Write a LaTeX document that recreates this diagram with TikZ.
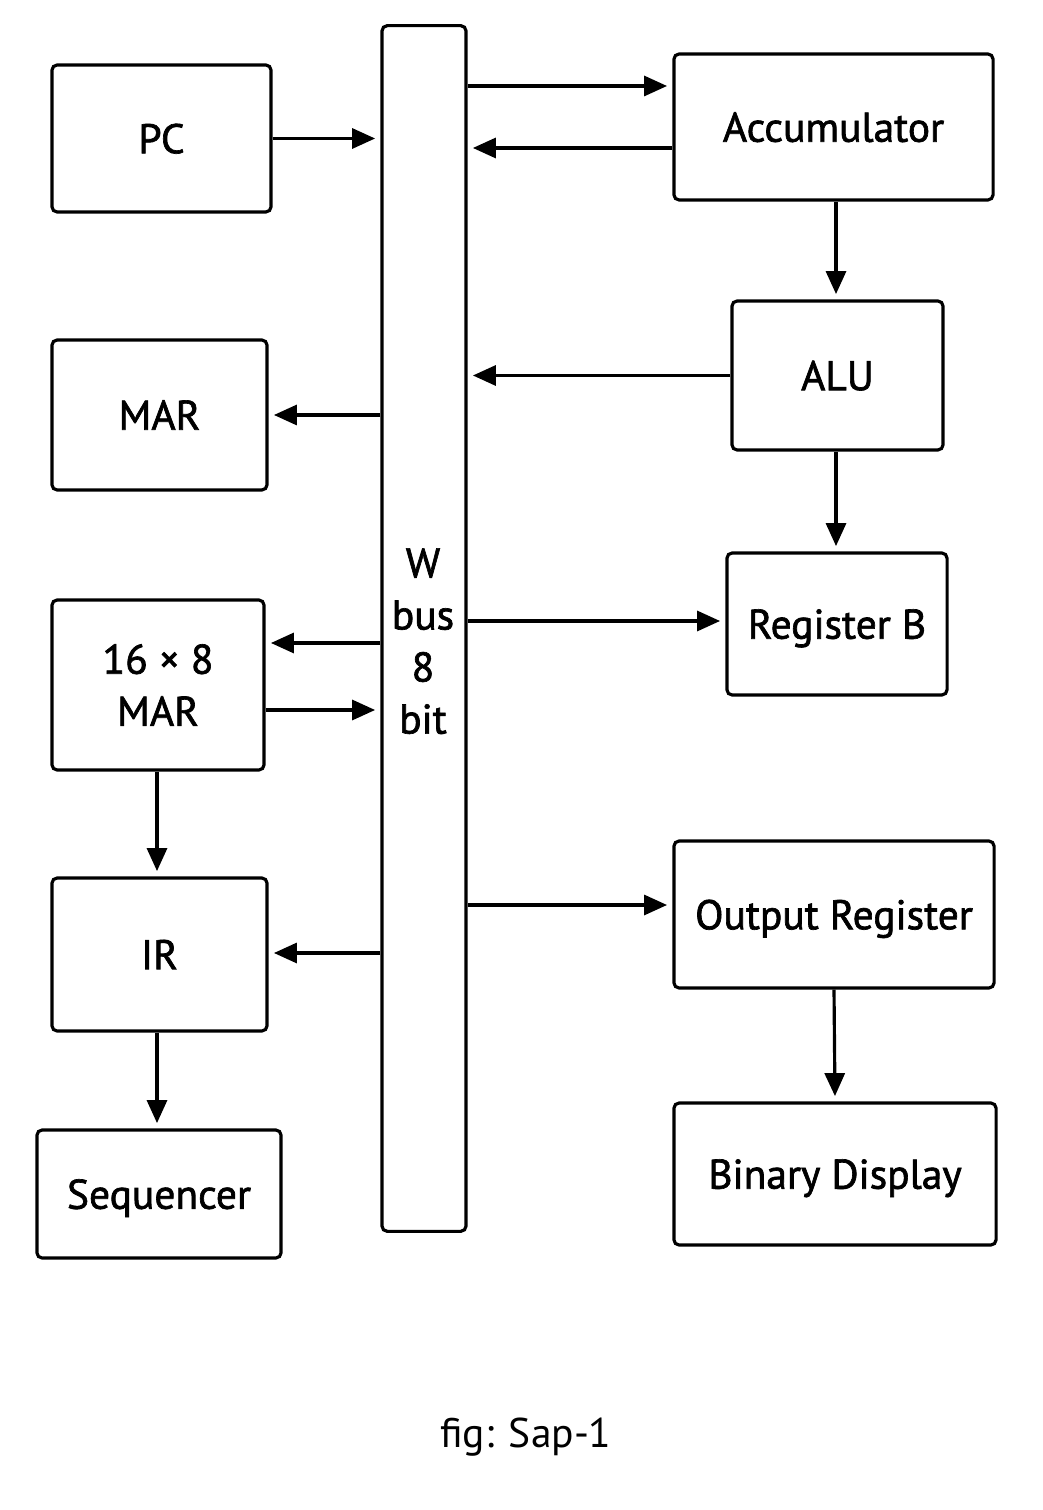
\documentclass[tikz,border=0pt]{standalone}
\usepackage{fontspec}
\setmainfont{PT Sans}
\newfontfamily\boxfont{PT Sans}[FakeBold=1.6]
\usepackage{tikz}
\usetikzlibrary{arrows.meta,positioning,calc}

\tikzset{
  blk/.style={draw, line width=0.9pt, rounded corners=1.5pt, align=center,
    font=\boxfont\fontsize{11.8}{14.8}\selectfont, inner sep=0pt, text depth=0pt},
  arr/.style={line width=0.9pt, -{Triangle[length=2.3mm,width=2mm]}, shorten >=1.5pt}
}

\begin{document}
\begin{tikzpicture}[x=0.01cm,y=-0.01cm]
  \useasboundingbox (0,0) rectangle (1042,1510);
  % 左側のブロック
  \node[blk, minimum width=2.19cm, minimum height=1.47cm] (pc) at (161.5,138.5) {PC};
  \node[blk, minimum width=2.15cm, minimum height=1.50cm] (mar) at (159.5,415) {MAR};
  \node[blk, minimum width=2.12cm, minimum height=1.70cm] (ram) at (158,685) {16 × 8\\MAR};
  \node[blk, minimum width=2.15cm, minimum height=1.53cm] (ir) at (159.5,954.5) {IR};
  \node[blk, minimum width=2.44cm, minimum height=1.28cm] (seq) at (159,1194) {Sequencer};
  % 中央のバス
  \node[blk, minimum width=0.84cm, minimum height=12.05cm] (bus) at (424,628.5) {};
  \node[blk, draw=none] (buslbl) at (423,641) {W\\bus\\8\\bit};
  % 右側のブロック
  \node[blk, minimum width=3.19cm, minimum height=1.46cm] (acc) at (833.5,127) {Accumulator};
  \node[blk, minimum width=2.11cm, minimum height=1.49cm] (alu) at (837.5,375.5) {ALU};
  \node[blk, minimum width=2.20cm, minimum height=1.42cm] (regb) at (837,624) {Register B};
  \node[blk, minimum width=3.20cm, minimum height=1.47cm] (out) at (834,914.5) {Output Register};
  \node[blk, minimum width=3.22cm, minimum height=1.42cm] (disp) at (835,1174) {Binary Display};
  % キャプション
  \node[font=\fontsize{11.8}{14}\selectfont] (cap) at (526,1437) {fig: Sap-1};

  % バスとの接続
  \draw[arr] (pc.east) -- (pc.east -| bus.west);
  \draw[arr] (bus.west |- mar.east) -- (mar.east);
  \draw[arr] (bus.west |- 0,643) -- (ram.east |- 0,643);
  \draw[arr] (ram.east |- 0,710) -- (bus.west |- 0,710);
  \draw[arr] (bus.west |- 0,953) -- (ir.east |- 0,953);
  \draw[arr] (bus.east |- 0,86) -- (acc.west |- 0,86);
  \draw[arr] (acc.west |- 0,148) -- (bus.east |- 0,148);
  \draw[arr] (alu.west) -- (alu.west -| bus.east);
  \draw[arr] (bus.east |- 0,621) -- (regb.west |- 0,621);
  \draw[arr] (bus.east |- 0,905) -- (out.west |- 0,905);
  % 縦方向の矢印
  \draw[arr] (ram.south -| 157,0) -- (ir.north -| 157,0);
  \draw[arr] (ir.south -| 157,0) -- (seq.north -| 157,0);
  \draw[arr] (acc.south -| 836,0) -- (alu.north -| 836,0);
  \draw[arr] (alu.south -| 836,0) -- (regb.north -| 836,0);
  \draw[arr] (out.south) -- (disp.north);
\end{tikzpicture}
\end{document}
